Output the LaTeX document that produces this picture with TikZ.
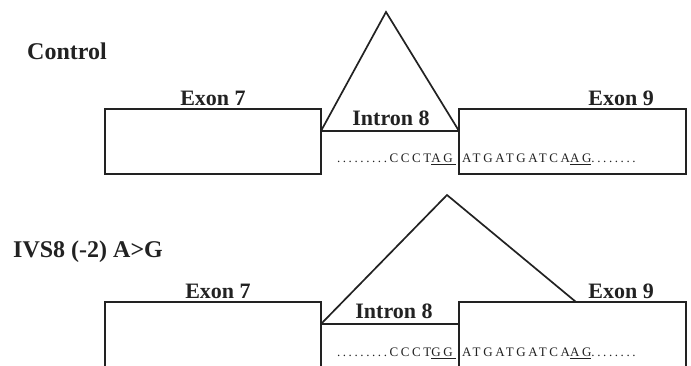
\documentclass[tikz,border=0pt]{standalone}
\usepackage{fontspec}
\setmainfont{Liberation Serif}
\newfontfamily\seqfont[LetterSpace=20]{Liberation Serif}
\usepackage{tikz}
\usetikzlibrary{
  calc,
  positioning
}
\definecolor{inkblack}{RGB}{34,34,34}
\tikzset{
  exonbox/.style={draw=inkblack,line width=1.3pt,inner sep=0pt,
    outer sep=0pt,minimum height=65pt},
  exonlab/.style={font=\fontsize{22}{24}\selectfont\bfseries,
    text=inkblack,inner sep=0pt},
  caselab/.style={font=\fontsize{24}{26}\selectfont\bfseries,
    text=inkblack,inner sep=0pt,anchor=base west},
  seqtxt/.style={font=\fontsize{13}{15}\selectfont\seqfont,
    text=inkblack,inner sep=0pt},
  splice/.style={draw=inkblack,line width=1.7pt,line join=miter},
  intron/.style={draw=inkblack,line width=1.7pt}
}

\begin{document}
\begin{tikzpicture}[x=1pt,y=-1pt]
  \useasboundingbox (0,0) rectangle (691,366);

  % control
  \node[caselab] (ctrl) at (27,60) {Control};
  \node[exonbox,minimum width=216pt,anchor=north west] (ctrl7) at (105,109) {};
  \node[exonbox,minimum width=227pt,right=138pt of ctrl7] (ctrl9) {};
  \node[exonlab,above=3pt of ctrl7] (ctrl7lab) {Exon 7};
  \node[exonlab,above left=3pt and 32pt of ctrl9.north east] (ctrl9lab) {Exon 9};
  \coordinate (ctrlA) at ($(ctrl7.north east)+(0,22)$);
  \coordinate (ctrlB) at ($(ctrl9.north west)+(0,22)$);
  \coordinate (ctrlMid) at ($(ctrlA)!0.5!(ctrlB)$);
  \coordinate (ctrlTop) at (386,12);
  \draw[splice] (ctrlA) -- (ctrlTop) -- (ctrlB);
  \draw[intron] (ctrlA) -- (ctrlB);
  \node[exonlab,above=5pt of ctrlMid,xshift=1pt] (ctrlint) {Intron 8};
  \node[seqtxt,left=3pt of ctrlB,yshift=-28pt] (ctrlseqL)
    {.........CCCT\underline{AG\hspace{3pt}}};
  \node[seqtxt,right=3pt of ctrlB,yshift=-28pt] (ctrlseqR)
    {ATGATGATCA\underline{AG}........};

  % IVS8 (-2) A>G
  \node[caselab] (ivs) at (13,258) {IVS8 (-2) A>G};
  \node[exonbox,minimum width=216pt,minimum height=72pt,anchor=north west] (ivs7) at (105,302) {};
  \node[exonbox,minimum width=227pt,minimum height=72pt,right=138pt of ivs7] (ivs9) {};
  \node[exonlab,above=3pt of ivs7,xshift=5pt] (ivs7lab) {Exon 7};
  \node[exonlab,above left=3pt and 32pt of ivs9.north east] (ivs9lab) {Exon 9};
  \coordinate (ivsA) at ($(ivs7.north east)+(0,22)$);
  \coordinate (ivsB) at ($(ivs9.north west)+(0,22)$);
  \coordinate (ivsC) at ($(ivs9.north west)+(117,0)$);
  \coordinate (ivsMid) at ($(ivsA)!0.5!(ivsB)$);
  \coordinate (ivsTop) at (447,195);
  \draw[splice] (ivsA) -- (ivsTop) -- (ivsC);
  \draw[intron] (ivsA) -- (ivsB);
  \node[exonlab,above=5pt of ivsMid,xshift=4pt] (ivsint) {Intron 8};
  \node[seqtxt,left=3pt of ivsB,yshift=-29pt] (ivsseqL)
    {.........CCCT\underline{GG\hspace{3pt}}};
  \node[seqtxt,right=3pt of ivsB,yshift=-29pt] (ivsseqR)
    {ATGATGATCA\underline{AG}........};
\end{tikzpicture}
\end{document}
